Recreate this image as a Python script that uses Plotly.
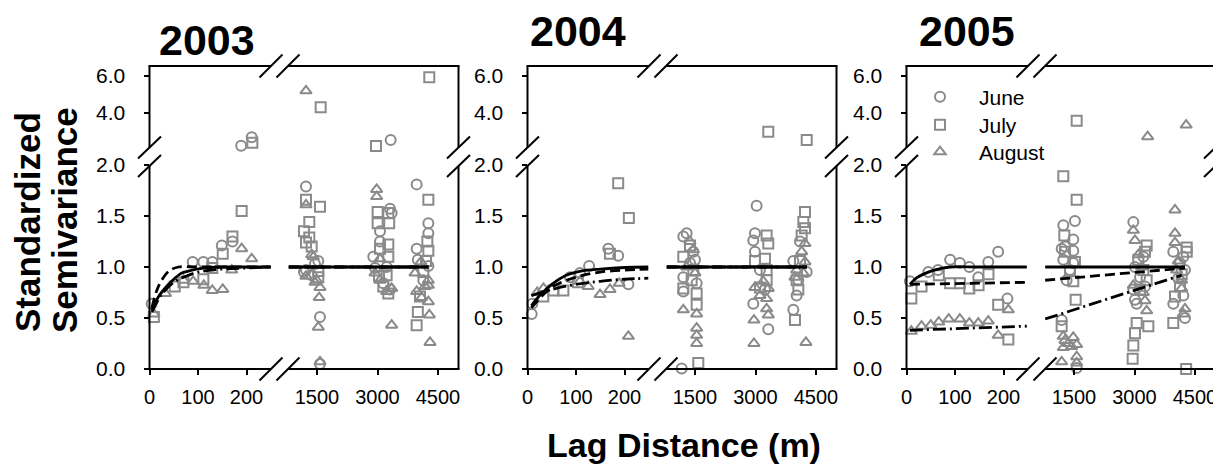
import plotly.graph_objects as go

# ---------------- data ----------------
YEARS = ["2003", "2004", "2005"]
MONTHS = ["June", "July", "August"]

JUNE_2003_X = [4.5, 89, 111, 129.5, 149, 171, 189, 210.7,
               1227, 1227, 1450, 1532, 1574, 1574, 1177, 1368,
               2896, 3062, 3310, 3351, 3062, 3227, 3144, 3310, 2938, 3327,
               3971, 4261, 4261, 3971, 4000, 4136, 4261]
JUNE_2003_Y = [0.64, 1.05, 1.05, 1.05, 1.21, 1.25, 2.23, 2.69,
               1.79, 0.97, 1.03, 1.06, 0.51, 0.05, 0.95, 0.92,
               1.10, 1.35, 1.57, 1.53, 1.25, 1.0, 0.84, 0.78, 0.99, 2.54,
               1.81, 1.43, 1.33, 1.18, 1.07, 0.87, 1.01]
JULY_2003_X = [9, 52, 111, 129.5, 151, 171, 190, 212, 70,
               1227, 1309, 1177, 1227, 1368, 1574, 1309, 1532, 1532, 1591,
               3004, 3004, 3268, 3290, 3268, 3268, 3062, 3038, 3227, 3144, 3268, 2962,
               4261, 4236, 4261, 4203, 4000, 3971, 4136, 4054, 4284]
JULY_2003_Y = [0.51, 0.81, 0.88, 0.99, 1.13, 1.30, 1.55, 2.39, 0.85,
               1.66, 1.44, 1.35, 1.24, 1.20, 1.59, 1.29, 0.96, 0.90, 4.31,
               1.54, 1.43, 1.53, 1.43, 1.22, 1.10, 1.18, 0.91, 0.92, 0.81, 0.74, 2.22,
               1.66, 1.25, 1.16, 1.06, 0.56, 0.43, 0.95, 0.71, 5.93]
AUG_2003_X = [9, 33, 70, 90, 112, 129.5, 151, 169.5, 190, 210.7,
              1227, 1368, 1409, 1227, 1491, 1574, 1553, 1532, 1574, 1450, 1227,
              2979, 2979, 3062, 2938, 3351, 3227, 3062, 3351,
              3930, 3971, 4095, 4261, 4261, 4261, 4285, 4302, 4178, 4075]
AUG_2003_Y = [0.54, 0.74, 0.87, 0.86, 0.82, 0.77, 0.78, 0.97, 1.18, 1.08,
              1.61, 1.12, 1.10, 0.91, 0.87, 0.80, 0.70, 0.41, 0.07, 0.85, 5.2,
              1.76, 1.69, 1.08, 0.94, 0.43, 0.76, 0.87, 0.79,
              0.94, 0.76, 0.70, 0.87, 0.82, 0.66, 0.53, 0.26, 0.81, 1.05]

JUNE_2004_X = [8.6, 10, 87.6, 108, 127, 166.6, 187, 208,
               1293, 1210, 1458, 1500, 1210, 1210, 1376, 1170, 1541,
               3028, 2987, 2945, 2987, 2945, 3317, 3111, 3235,
               3938, 4020, 4269, 4103, 3938, 4062]
JUNE_2004_Y = [0.54, 0.64, 0.90, 0.94, 1.01, 1.18, 1.11, 0.83,
               1.33, 1.30, 1.15, 1.07, 0.90, 0.76, 1.04, 0.005, 0.84,
               1.60, 1.33, 1.26, 1.15, 0.64, 0.39, 0.97, 0.78,
               0.58, 0.72, 0.95, 1.25, 1.06, 0.87]
JULY_2004_X = [32.6, 53, 74, 104, 170, 187, 209,
               1210, 1376, 1458, 1541, 1541, 1210, 1582, 1417,
               3276, 3317, 3235, 2987, 3276, 3276, 3111, 3317,
               4227, 4186, 4227, 4145, 4020, 3979, 4103, 4062, 4270]
JULY_2004_Y = [0.71, 0.77, 0.77, 0.85, 1.13, 1.82, 1.48,
               1.10, 1.21, 0.97, 0.74, 0.63, 0.79, 0.06, 0.87,
               1.31, 1.23, 1.08, 1.06, 0.97, 0.87, 0.80, 2.99,
               1.54, 1.44, 1.38, 1.31, 0.87, 0.48, 1.06, 0.78, 2.54]
AUG_2004_X = [33, 125, 149.5, 170, 189, 208, 108, 20,
              1376, 1458, 1210, 1541, 1541, 1541, 1541, 1293, 1500,
              2987, 3193, 3317, 3276, 3276, 3317, 2962, 2962, 3111,
              4145, 4227, 4227, 3979, 4250, 4020, 4186]
AUG_2004_Y = [0.79, 0.81, 0.73, 0.78, 0.84, 0.32, 0.86, 0.75,
              1.25, 1.17, 0.58, 0.54, 0.40, 0.33, 0.25, 1.0, 0.94,
              0.80, 0.86, 0.79, 0.69, 0.59, 0.53, 0.48, 0.25, 0.72,
              1.15, 1.23, 1.05, 0.90, 0.26, 0.97, 0.94]

JUNE_2005_X = [7, 45, 65, 90, 110, 129.5, 148, 168.6, 189, 208,
               1235, 1523, 1482, 1276, 1194, 1482, 1235, 1400, 1482, 1194, 1566, 1317,
               2971, 3012, 2971, 3012, 3054, 3260, 3137, 3219,
               3962, 4210, 4252, 3962, 4210, 4252, 4086, 4127]
JUNE_2005_Y = [0.86, 0.95, 0.97, 1.07, 1.04, 1.0, 0.90, 1.05, 1.15, 0.69,
               1.41, 1.45, 1.27, 1.20, 1.18, 1.16, 1.07, 0.97, 1.04, 0.48, 0.01, 0.87,
               1.44, 1.0, 0.78, 0.68, 0.64, 0.81, 0.90, 1.10,
               1.15, 1.10, 0.97, 0.64, 0.72, 0.50, 0.89, 1.04]
JULY_2005_X = [10, 31, 66.6, 90, 110, 129.5, 148.6, 169, 189, 210,
               1235, 1566, 1566, 1260, 1276, 1523, 1400, 1482, 1541, 1194,
               3302, 3260, 3095, 3219, 3302, 3343, 3054, 3012, 2971, 2954, 3137,
               4294, 4294, 4170, 4004, 3962, 4281, 4127]
JULY_2005_Y = [0.69, 0.81, 0.92, 0.84, 0.84, 0.79, 0.82, 0.93, 0.63, 0.29,
               1.89, 1.66, 3.58, 1.31, 1.15, 1.05, 0.96, 0.86, 0.68, 0.42,
               1.21, 1.15, 1.07, 0.97, 0.87, 0.42, 0.45, 0.35, 0.23, 0.10, 0.78,
               1.19, 1.15, 0.93, 0.71, 0.45, 0.00, 0.81]
AUG_2005_X = [10, 31, 50, 66.6, 87, 110, 129.5, 148, 168.6, 189, 210,
              1235, 1276, 1358, 1441, 1566, 1235, 1194, 1566, 1566, 1482,
              2971, 3012, 3095, 2971, 3219, 3302, 3260, 3178, 3327,
              4004, 4004, 4004, 4086, 4170, 4170, 4252, 4210, 4045, 4281]
AUG_2005_Y = [0.37, 0.42, 0.43, 0.46, 0.49, 0.49, 0.45, 0.45, 0.47, 0.33, 0.58,
              0.32, 0.28, 0.25, 0.22, 0.24, 0.21, 0.07, 0.12, 0.06, 0.31,
              1.36, 1.26, 1.12, 0.82, 0.75, 0.57, 0.67, 1.0, 2.72,
              1.56, 1.33, 1.24, 1.06, 0.87, 0.79, 0.59, 0.54, 0.97, 3.35]

# fitted model curves
JUNE_2003_FIT_X = [5, 20, 35, 50, 66, 80, 104, 150, 200, 250, 800, 4260]
JUNE_2003_FIT_Y = [0.58, 0.72, 0.81, 0.88, 0.94, 0.96, 0.985, 1.0, 1.0, 1.0, 1.0, 1.0]
JULY_2003_FIT_X = [5, 15, 25, 40, 60, 100, 250, 800, 4260]
JULY_2003_FIT_Y = [0.60, 0.77, 0.87, 0.96, 1.0, 1.0, 1.0, 1.0, 1.0]
AUG_2003_FIT_X = [5, 25, 50, 75, 100, 150, 200, 250, 800, 4260]
AUG_2003_FIT_Y = [0.56, 0.73, 0.85, 0.91, 0.95, 0.98, 0.99, 1.0, 1.0, 1.0]

JUNE_2004_FIT_X = [8, 25, 50, 80, 110, 150, 200, 249, 800, 4270]
JUNE_2004_FIT_Y = [0.62, 0.72, 0.83, 0.92, 0.96, 0.98, 0.995, 1.0, 1.0, 1.0]
JULY_2004_FIT_X = [8, 50, 100, 150, 200, 249, 800, 4270]
JULY_2004_FIT_Y = [0.60, 0.80, 0.90, 0.95, 0.97, 0.98, 1.0, 1.0]
AUG_2004_FIT_X = [8, 50, 100, 150, 200, 249, 800, 4270]
AUG_2004_FIT_Y = [0.72, 0.78, 0.83, 0.86, 0.88, 0.89, 1.0, 1.0]

JUNE_2005_FIT_X = [7, 20, 35, 57, 90, 150, 248, 785, 4252]
JUNE_2005_FIT_Y = [0.83, 0.89, 0.93, 0.97, 1.0, 1.0, 1.0, 1.0, 1.0]
JULY_2005_FIT_X = [7, 248, 785, 4252]
JULY_2005_FIT_Y = [0.83, 0.85, 0.87, 0.99]
AUG_2005_FIT_X = [7, 248, 785, 4170]
AUG_2005_FIT_Y = [0.38, 0.42, 0.49, 0.92]

POINTS = {
    "2003": [(JUNE_2003_X, JUNE_2003_Y), (JULY_2003_X, JULY_2003_Y), (AUG_2003_X, AUG_2003_Y)],
    "2004": [(JUNE_2004_X, JUNE_2004_Y), (JULY_2004_X, JULY_2004_Y), (AUG_2004_X, AUG_2004_Y)],
    "2005": [(JUNE_2005_X, JUNE_2005_Y), (JULY_2005_X, JULY_2005_Y), (AUG_2005_X, AUG_2005_Y)],
}
FITS = {
    "2003": [(JUNE_2003_FIT_X, JUNE_2003_FIT_Y), (JULY_2003_FIT_X, JULY_2003_FIT_Y), (AUG_2003_FIT_X, AUG_2003_FIT_Y)],
    "2004": [(JUNE_2004_FIT_X, JUNE_2004_FIT_Y), (JULY_2004_FIT_X, JULY_2004_FIT_Y), (AUG_2004_FIT_X, AUG_2004_FIT_Y)],
    "2005": [(JUNE_2005_FIT_X, JUNE_2005_FIT_Y), (JULY_2005_FIT_X, JULY_2005_FIT_Y), (AUG_2005_FIT_X, AUG_2005_FIT_Y)],
}

X_TICKS_NEAR = [0, 100, 200]
X_TICKS_FAR = [1500, 3000, 4500]
Y_TICKS_LOW = [0, 0.5, 1.0, 1.5, 2.0]
Y_TICKS_HIGH = [4.0, 6.0]

# ---------------- styling / layout ----------------
PAGE_W, PAGE_H = 1221, 470
BODY_MARGIN = 8                      # default page margin around the plot div
W, H = PAGE_W - BODY_MARGIN, PAGE_H - BODY_MARGIN
FONT = "Arial, 'Liberation Sans', sans-serif"
GREY = "#8a8a8a"
SYMBOLS = ["circle-open", "square-open", "triangle-up-open"]
DASHES = ["solid", "10px,5px", "13px,4px,2px,4px"]
PANEL_LEFT = [149.5, 527.5, 906.5]
TITLE_POS = [(207, 40), (577.5, 31), (967, 31)]
LEGEND_ROWS = [97, 125, 152]
LEGEND_LEFT = 901
NEAR_MAX = 250          # left (near-lag) section covers 0..~250 m
YB_PIX = (369, 165)     # lower y section pixel span
YT_PIX = (148, 66)      # upper y section pixel span


def fx(px):
    return (px - BODY_MARGIN) / W


def fy(py):
    return 1 - (py - BODY_MARGIN) / H


fig = go.Figure()
layout = dict(width=W, height=H, autosize=False,
              margin=dict(l=0, r=0, t=0, b=0, pad=0, autoexpand=False),
              plot_bgcolor="white", paper_bgcolor="white",
              font=dict(family=FONT, color="black"), showlegend=True)
shapes = []
annotations = []

tickfont = dict(family=FONT, size=20, color="black")
legend_names = ["legend", "legend2", "legend3"]

for p, (yr, L) in enumerate(zip(YEARS, PANEL_LEFT)):
    xl, xr = 2 * p + 1, 2 * p + 2
    yb, yt = 2 * p + 1, 2 * p + 2
    common_x = dict(showgrid=False, zeroline=False, showline=False, ticks="outside",
                    ticklen=5, tickwidth=2, tickcolor="black", tickfont=tickfont,
                    anchor=f"y{yb}", fixedrange=True, automargin=False,
                    ticklabelstandoff=5)
    layout[f"xaxis{xl}"] = dict(common_x, domain=[fx(L), fx(L + 121.5)],
                                range=[0, 250.5], tickvals=X_TICKS_NEAR)
    layout[f"xaxis{xr}"] = dict(common_x, domain=[fx(L + 138.5), fx(L + 309)],
                                range=[780.9, 5008.5], tickvals=X_TICKS_FAR)
    common_y = dict(showgrid=False, zeroline=False, showline=False, ticks="outside",
                    ticklen=5, tickwidth=2, tickcolor="black",
                    tickfont=dict(tickfont, size=21),
                    anchor=f"x{xl}", tickformat=".1f", fixedrange=True, automargin=False,
                    ticklabelstandoff=14)
    layout[f"yaxis{yb}"] = dict(common_y, domain=[fy(YB_PIX[0]), fy(YB_PIX[1])],
                                range=[0, 2.0], tickvals=Y_TICKS_LOW)
    layout[f"yaxis{yt}"] = dict(common_y, domain=[fy(YT_PIX[0]), fy(YT_PIX[1])],
                                range=[2.11, 6.54], tickvals=Y_TICKS_HIGH)

    # scatter points, routed to the proper broken-axis section
    for m, (xs, ys) in enumerate(POINTS[yr]):
        groups = {}
        for x, y in zip(xs, ys):
            key = (xl if x <= NEAR_MAX else xr, yb if y <= 2.0 else yt)
            groups.setdefault(key, ([], []))
            groups[key][0].append(x)
            groups[key][1].append(y)
        first = True
        for (xa, ya), (gx, gy) in groups.items():
            fig.add_trace(go.Scatter(
                x=gx, y=gy, xaxis=f"x{xa}", yaxis=f"y{ya}", mode="markers",
                name=MONTHS[m], legend=legend_names[m],
                showlegend=(p == 2 and first), cliponaxis=False,
                marker=dict(symbol=SYMBOLS[m], size=10, color=GREY,
                            line=dict(color=GREY, width=2))))
            first = False

for p, (yr, L) in enumerate(zip(YEARS, PANEL_LEFT)):
    xl, xr = 2 * p + 1, 2 * p + 2
    yb = 2 * p + 1
    for m, (xs, ys) in enumerate(FITS[yr]):
        for xa, sel in ((xl, lambda v: v <= NEAR_MAX), (xr, lambda v: v > NEAR_MAX)):
            gx = [x for x in xs if sel(x)]
            gy = [y for x, y in zip(xs, ys) if sel(x)]
            fig.add_trace(go.Scatter(
                x=gx, y=gy, xaxis=f"x{xa}", yaxis=f"y{yb}", mode="lines",
                showlegend=False, hoverinfo="skip", line_shape="spline",
                line=dict(color="black", width=2.8, dash=DASHES[m])))

    # panel frame with gaps at the axis breaks
    def seg(x0, y0, x1, y1, w=2):
        shapes.append(dict(type="line", xref="paper", yref="paper",
                           x0=fx(x0), y0=fy(y0), x1=fx(x1), y1=fy(y1),
                           line=dict(color="black", width=w)))

    bx0, bx1 = L + 121.5, L + 138.5
    R = L + 309
    for yy in (369, 66):
        seg(L - 1, yy, bx0, yy)
        seg(bx1, yy, R + 1, yy)
    for xx in (L, R):
        seg(xx, 369, xx, 166)
        seg(xx, 147.5, xx, 66)
    # break marks
    for cx in (bx0, bx1):
        for cy in (369, 66):
            seg(cx - 11.5, cy + 11.5, cx + 11.5, cy - 11.5)
    for cy in (147.5, 166):
        for cx in (L, R):
            seg(cx - 11.5, cy + 11, cx + 11.5, cy - 11)

    tx, ty = TITLE_POS[p]
    annotations.append(dict(text=f"<b>{yr}</b>", x=fx(tx), y=fy(ty), xref="paper",
                            yref="paper", showarrow=False, xanchor="center",
                            yanchor="middle", font=dict(family=FONT, size=43, color="black")))

annotations.append(dict(text="<b>Standardized</b>", x=fx(27), y=fy(222), xref="paper",
                        yref="paper", showarrow=False, textangle=-90, xanchor="center",
                        yanchor="middle", font=dict(family=FONT, size=35, color="black")))
annotations.append(dict(text="<b>Semivariance</b>", x=fx(64), y=fy(220), xref="paper",
                        yref="paper", showarrow=False, textangle=-90, xanchor="center",
                        yanchor="middle", font=dict(family=FONT, size=35, color="black")))
annotations.append(dict(text="<b>Lag Distance (m)</b>", x=fx(684), y=fy(445), xref="paper",
                        yref="paper", showarrow=False, xanchor="center", yanchor="middle",
                        font=dict(family=FONT, size=34, color="black")))

layout["shapes"] = shapes
layout["annotations"] = annotations
for name, row in zip(legend_names, LEGEND_ROWS):
    layout[name] = dict(x=fx(LEGEND_LEFT), y=fy(row), xanchor="left", yanchor="middle",
                        bgcolor="rgba(0,0,0,0)",
                        font=dict(family=FONT, size=21, color="black"),
                        itemwidth=68)
fig.update_layout(**layout)
fig.write_html("out.html")
